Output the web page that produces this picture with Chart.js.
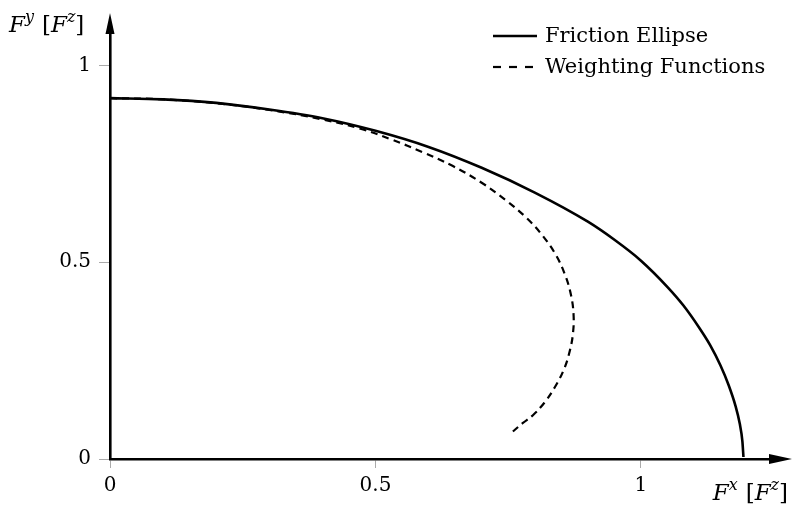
<!DOCTYPE html>
<html>
<head>
<meta charset="utf-8">
<script src="https://cdn.jsdelivr.net/npm/chart.js@4.4.1/dist/chart.umd.min.js"></script>
<style>
  html, body { margin: 0; padding: 0; background: #fff; }
  #wrap { width: 800px; height: 506px; }
</style>
</head>
<body>
<div id="wrap"><canvas id="chart" width="800" height="506"></canvas></div>
<script>
// ─── DATA ────────────────────────────────────────────────────────────────────

const ellipseX = [0, 0.1, 0.2, 0.3, 0.4, 0.5, 0.6, 0.7, 0.8, 0.9, 0.95, 1.0, 1.05, 1.08, 1.11, 1.13, 1.15, 1.165, 1.178, 1.186, 1.191, 1.193];
const ellipseY = [0.917, 0.914, 0.905, 0.888, 0.866, 0.834, 0.793, 0.740, 0.677, 0.603, 0.557, 0.504, 0.437, 0.390, 0.333, 0.290, 0.237, 0.188, 0.135, 0.090, 0.045, 0.005];

const weightX = [0, 0.1, 0.2, 0.3, 0.4, 0.47, 0.53, 0.59, 0.645, 0.70, 0.745, 0.785, 0.815, 0.84, 0.857, 0.868, 0.873, 0.872, 0.866, 0.855, 0.838, 0.818, 0.797, 0.777, 0.758];
const weightY = [0.917, 0.914, 0.904, 0.887, 0.863, 0.840, 0.812, 0.779, 0.745, 0.702, 0.658, 0.612, 0.567, 0.518, 0.468, 0.418, 0.368, 0.320, 0.275, 0.228, 0.183, 0.143, 0.112, 0.091, 0.069];

const xTicks = [0, 0.5, 1];
const yTicks = [0, 0.5, 1];
const seriesNames = ['Friction Ellipse', 'Weighting Functions'];

const SERIF = '"DejaVu Serif", "Liberation Serif", serif';

function pts(xs, ys) {
  return xs.map((x, i) => ({ x, y: ys[i] }));
}

// draws a run of text pieces (italic / superscript) one after another
function drawRich(ctx, x, y, parts, align) {
  let w = 0;
  parts.forEach(p => { ctx.font = p.font; w += ctx.measureText(p.t).width + (p.gap || 0); });
  let cx = align === 'right' ? x - w : x;
  ctx.textAlign = 'left';
  ctx.textBaseline = 'alphabetic';
  parts.forEach(p => {
    ctx.font = p.font;
    ctx.fillText(p.t, cx, y + (p.dy || 0));
    cx += ctx.measureText(p.t).width + (p.gap || 0);
  });
}

function unitLabel(sym) {
  return [
    { t: 'F', font: `italic 23px ${SERIF}` },
    { t: sym, font: `italic 16px ${SERIF}`, dy: -10, gap: 8 },
    { t: '[', font: `23px ${SERIF}` },
    { t: 'F', font: `italic 23px ${SERIF}` },
    { t: 'z', font: `italic 16px ${SERIF}`, dy: -10 },
    { t: ']', font: `23px ${SERIF}` }
  ];
}

// arrows, axis names and the legend
const decorations = {
  id: 'decorations',
  afterDraw(chart) {
    const { ctx, chartArea: a } = chart;
    ctx.save();
    ctx.fillStyle = '#000';

    // y arrow head
    ctx.beginPath();
    ctx.moveTo(a.left, a.top - 20);
    ctx.lineTo(a.left - 4.5, a.top + 1);
    ctx.lineTo(a.left + 4.5, a.top + 1);
    ctx.closePath();
    ctx.fill();

    // x arrow head
    ctx.beginPath();
    ctx.moveTo(a.right + 22, a.bottom);
    ctx.lineTo(a.right - 1, a.bottom - 5);
    ctx.lineTo(a.right - 1, a.bottom + 5);
    ctx.closePath();
    ctx.fill();

    drawRich(ctx, 9, 32, unitLabel('y'));
    drawRich(ctx, 788, 500, unitLabel('x'), 'right');

    // legend
    const legendDash = [[], [8, 8]];
    chart.data.datasets.forEach((ds, i) => {
      const y = 36 + i * 31;
      ctx.strokeStyle = ds.borderColor;
      ctx.lineWidth = ds.borderWidth;
      ctx.setLineDash(legendDash[i]);
      ctx.beginPath();
      ctx.moveTo(493, y);
      ctx.lineTo(537, y);
      ctx.stroke();
      ctx.setLineDash([]);
      ctx.font = `21px ${SERIF}`;
      ctx.textAlign = 'left';
      ctx.textBaseline = 'middle';
      ctx.fillText(seriesNames[i], 545, y + 1);
    });
    ctx.restore();
  }
};

const tickFont = { family: SERIF, size: 20 };

new Chart(document.getElementById('chart'), {
  type: 'scatter',
  data: {
    datasets: [
      {
        label: seriesNames[0],
        data: pts(ellipseX, ellipseY),
        showLine: true,
        borderColor: '#000',
        borderWidth: 2.6,
        pointRadius: 0,
        cubicInterpolationMode: 'monotone'
      },
      {
        label: seriesNames[1],
        data: pts(weightX, weightY),
        showLine: true,
        borderColor: '#000',
        borderWidth: 2.2,
        borderDash: [7, 5],
        pointRadius: 0,
        tension: 0.4
      }
    ]
  },
  options: {
    responsive: false,
    animation: false,
    layout: { padding: { top: 33, right: 30, left: 0, bottom: 0 } },
    plugins: {
      legend: { display: false },
      tooltip: { enabled: false }
    },
    scales: {
      x: {
        type: 'linear',
        min: 0,
        max: 1.243,
        afterBuildTicks: s => { s.ticks = xTicks.map(v => ({ value: v })); },
        afterFit: s => { s.height = 47; },
        grid: { drawOnChartArea: false, drawTicks: true, tickLength: 9, color: '#aaa', lineWidth: 1 },
        border: { display: true, color: '#000', width: 2.6 },
        ticks: { color: '#000', font: tickFont, padding: 6, maxRotation: 0, callback: v => String(v) }
      },
      y: {
        type: 'linear',
        min: 0,
        max: 1.0826,
        afterBuildTicks: s => { s.ticks = yTicks.map(v => ({ value: v })); },
        afterFit: s => { s.width = 110; },
        grid: { drawOnChartArea: false, drawTicks: true, tickLength: 11, color: '#aaa', lineWidth: 1 },
        border: { display: true, color: '#000', width: 2.6 },
        ticks: { color: '#000', font: tickFont, padding: 8, callback: v => String(v) }
      }
    }
  },
  plugins: [decorations]
});
</script>
</body>
</html>
